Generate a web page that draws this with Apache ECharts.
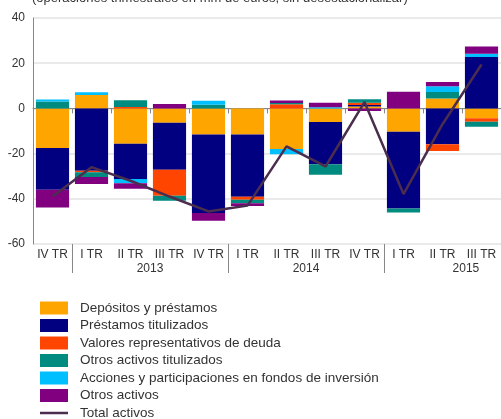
<!DOCTYPE html>
<html>
<head>
<meta charset="utf-8">
<script src="https://cdn.jsdelivr.net/npm/echarts@6/dist/echarts.min.js"></script>
<style>
html,body{margin:0;padding:0;background:#fff;}
#chart{width:501px;height:419px;}
</style>
</head>
<body>
<div id="chart"></div>
<script>
var categories = ['IV TR','I TR','II TR','III TR','IV TR','I TR','II TR','III TR','IV TR','I TR','II TR','III TR'];
var years = ['2013','2014','2015'];
var yearLabelPos = [3, 7, 11.1];
var yearBoundaries = [1, 5, 9];

var depositos = [-17.5, 5.9, -15.6, -6.3, -11.5, -11.5, -18.0, -6.0, 0.8, -10.3, 4.4, -4.4];
var prestamosTit = [-18.5, -27.6, -15.6, -20.9, -34.8, -27.6, 0, -18.7, 0.7, -34.0, -15.9, 22.7];
var valores = [0, -0.7, 0.6, -11.5, 0, -1.3, 1.8, 0, 1.0, 0, -2.9, -1.5];
var otrosTit = [3.0, -2.0, 3.0, -2.2, 1.6, -1.6, 0.6, -4.7, 1.5, -1.8, 2.9, -2.2];
var acciones = [0.9, 1.3, -1.9, 0, 1.8, 0, -2.3, 0.5, 0, 0, 2.5, 1.5];
var otrosActivos = [-7.8, -3.2, -2.4, 2.0, -3.4, -1.2, 1.1, 2.0, -1.2, 7.4, 1.9, 3.2];
var totalActivos = [-39.0, -26.0, -32.0, -39.0, -45.6, -43.0, -16.8, -25.7, 2.8, -37.9, -7.0, 19.4];

var yTicks = {min: -60, max: 40, interval: 20};

var chart = echarts.init(document.getElementById('chart'));
var font = 'Liberation Sans, Arial, sans-serif';

function barSeries(name, data, color) {
  return {
    name: name, type: 'bar', stack: 'a', data: data,
    barCategoryGap: '15%',
    itemStyle: {color: color},
    emphasis: {disabled: true}
  };
}

chart.setOption({
  animation: false,
  textStyle: {fontFamily: font},
  title: {
    text: '(operaciones trimestrales en mm de euros, sin desestacionalizar)',
    left: 27, top: -13,
    textStyle: {fontSize: 13, fontWeight: 'normal', color: '#333', fontFamily: font}
  },
  grid: {left: 33, right: 0, top: 18, bottom: 175, containLabel: false},
  legend: {
    orient: 'vertical', left: 40, top: 301, height: 200, width: 460, padding: 0,
    itemWidth: 28, itemHeight: 13, itemGap: 3.5,
    symbolKeepAspect: true,
    textStyle: {fontSize: 13.5, lineHeight: 13, color: '#333', fontFamily: font, padding: [0, 0, 0, 7]},
    data: [
      {name: 'Depósitos y préstamos', icon: 'rect'},
      {name: 'Préstamos titulizados', icon: 'rect'},
      {name: 'Valores representativos de deuda', icon: 'rect'},
      {name: 'Otros activos titulizados', icon: 'rect'},
      {name: 'Acciones y participaciones en fondos de inversión', icon: 'rect'},
      {name: 'Otros activos', icon: 'rect'},
      {name: 'Total activos', icon: 'path://M0,0 H28 V2.5 H0 Z'}
    ]
  },
  xAxis: [
    {
      type: 'category', data: categories, boundaryGap: true,
      axisLine: {show: true, lineStyle: {color: '#888', width: 1}},
      axisTick: {show: true, length: 5, lineStyle: {color: '#888'}},
      axisLabel: {fontSize: 12, color: '#333', margin: 5, interval: 0, fontFamily: font}
    },
    {
      type: 'value', position: 'bottom', min: 0, max: 12,
      axisLine: {show: false},
      splitLine: {show: false},
      axisTick: {show: true, customValues: yearBoundaries, length: 29, lineStyle: {color: '#888'}},
      axisLabel: {
        show: true, customValues: yearLabelPos, margin: 19, fontSize: 12, color: '#333', fontFamily: font,
        formatter: function (v) { var i = yearLabelPos.indexOf(v); return i >= 0 ? years[i] : ''; }
      }
    }
  ],
  yAxis: {
    type: 'value', min: yTicks.min, max: yTicks.max, interval: yTicks.interval,
    axisLine: {show: true, lineStyle: {color: '#888'}},
    axisTick: {show: false},
    splitLine: {show: true, lineStyle: {color: '#e3e3e3', width: 1.5}},
    axisLabel: {fontSize: 12, color: '#333', margin: 8, fontFamily: font}
  },
  series: [
    barSeries('Depósitos y préstamos', depositos, '#FFA500'),
    barSeries('Préstamos titulizados', prestamosTit, '#000080'),
    barSeries('Valores representativos de deuda', valores, '#FF4500'),
    barSeries('Otros activos titulizados', otrosTit, '#008B80'),
    barSeries('Acciones y participaciones en fondos de inversión', acciones, '#00BFFF'),
    barSeries('Otros activos', otrosActivos, '#800080'),
    {
      name: 'Total activos', type: 'line', data: totalActivos,
      symbol: 'none', z: 10,
      lineStyle: {color: '#4B2D4E', width: 2.5},
      itemStyle: {color: '#4B2D4E'},
      emphasis: {disabled: true}
    }
  ]
});
</script>
</body>
</html>
